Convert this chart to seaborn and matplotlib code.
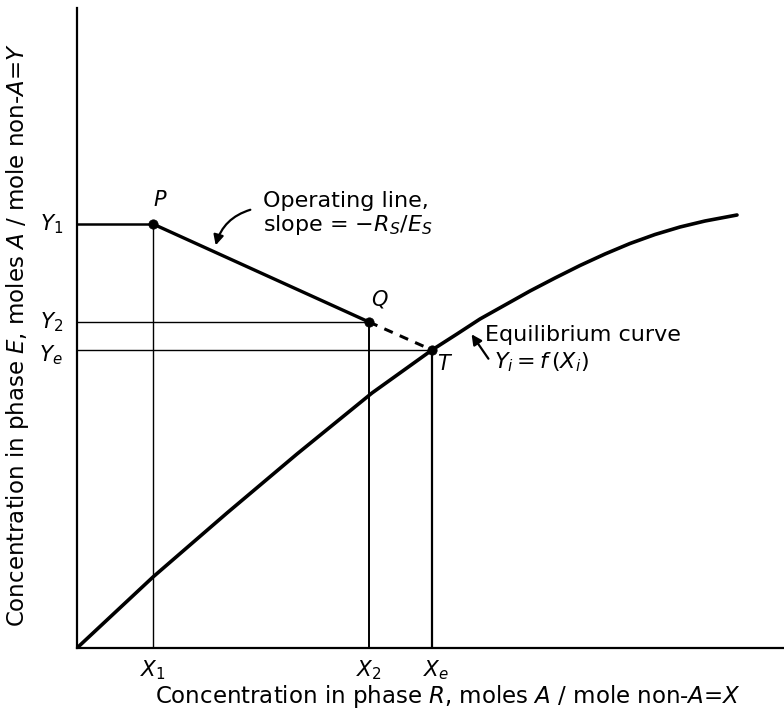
import matplotlib
matplotlib.use("Agg")
import matplotlib.pyplot as plt
import seaborn as sns
import pandas as pd

# Equilibrium curve Y_i = f(X_i), read as (X, Y) pairs
curve_x = [0, 76, 150, 220, 295, 355, 380, 403, 428, 453, 478, 503, 528, 553, 578, 603, 628, 660]
curve_y = [0, 71, 135, 194, 255, 298, 314, 329, 343, 357, 370, 382.5, 394, 404.5, 413.5, 421, 427, 433]

# Operating-point coordinates
X1, X2, Xe = 76, 292, 355
Y1, Y2, Ye = 424, 326, 298

point_names = ["P", "Q", "T"]
point_x = [X1, X2, Xe]
point_y = [Y1, Y2, Ye]

sns.set_theme(style="white")
plt.rcParams["font.family"] = ["DejaVu Sans"]
plt.rcParams["text.color"] = "black"
plt.rcParams["mathtext.fontset"] = "dejavusans"

W, H = 784, 718
fig = plt.figure(figsize=(W / 100, H / 100), dpi=100)
ax = fig.add_axes([77 / W, (H - 648) / H, (W - 77) / W, (648 - 8) / H])
ax.set_xlim(0, 707)
ax.set_ylim(0, 640)
ax.set_facecolor("white")
for s in ["top", "right"]:
    ax.spines[s].set_visible(False)
for s in ["left", "bottom"]:
    ax.spines[s].set_color("black")
    ax.spines[s].set_linewidth(1.6)
ax.set_xticks([])
ax.set_yticks([])

eq = pd.DataFrame({"X": curve_x, "Y": curve_y})
sns.lineplot(data=eq, x="X", y="Y", ax=ax, color="black", linewidth=2.6,
             sort=False, estimator=None)

# Operating line P -> Q (solid) and its extension Q -> T (dashed)
op = pd.DataFrame({"X": point_x[:2], "Y": point_y[:2]})
sns.lineplot(data=op, x="X", y="Y", ax=ax, color="black", linewidth=2.4,
             sort=False, estimator=None)
ax.plot(point_x[1:], point_y[1:], color="black", linewidth=2.2,
        linestyle=(0, (3, 2.5)))

# Construction lines to the axes
ax.plot([0, X1], [Y1, Y1], color="black", linewidth=1.8)
ax.plot([0, X2], [Y2, Y2], color="black", linewidth=1.0)
ax.plot([0, Xe], [Ye, Ye], color="black", linewidth=1.0)
ax.plot([X1, X1], [0, Y1], color="black", linewidth=1.0)
ax.plot([X2, X2], [0, Y2], color="black", linewidth=1.4)
ax.plot([Xe, Xe], [0, Ye], color="black", linewidth=1.6)

sns.scatterplot(x=point_x, y=point_y, ax=ax, color="black", s=45,
                edgecolor="black", zorder=5)

lab = dict(fontsize=15, color="black", style="italic")
ax.text(X1 + 7, Y1 + 14, "P", ha="center", va="bottom", **lab)
ax.text(X2 + 10, Y2 + 12, "Q", ha="center", va="bottom", **lab)
ax.text(Xe + 11, Ye - 4, "T", ha="center", va="top", **lab)

# Axis labels for the marked values
ax.text(-14, Y1, "$Y_1$", ha="right", va="center", fontsize=15.5, clip_on=False)
ax.text(-14, Y2, "$Y_2$", ha="right", va="center", fontsize=15.5, clip_on=False)
ax.text(-14, Ye - 5, "$Y_e$", ha="right", va="center", fontsize=15.5, clip_on=False)
ax.text(X1, -10, "$X_1$", ha="center", va="top", fontsize=15.5, clip_on=False)
ax.text(X2, -10, "$X_2$", ha="center", va="top", fontsize=15.5, clip_on=False)
ax.text(Xe + 4, -10, "$X_e$", ha="center", va="top", fontsize=15.5, clip_on=False)

ax.text(186, 434, "Operating line,\nslope = $-R_S/E_S$", ha="left", va="center",
        fontsize=16, linespacing=1.1)
ax.annotate("", xy=(138, 400), xytext=(176, 439),
            arrowprops=dict(arrowstyle="-|>", color="black", lw=1.6,
                            connectionstyle="arc3,rad=0.3", mutation_scale=15))

ax.text(408, 313, "Equilibrium curve", ha="left", va="center", fontsize=16)
ax.text(417, 286, "$Y_i = f\\,(X_i)$", ha="left", va="center", fontsize=16)
ax.annotate("", xy=(393, 316), xytext=(413, 287),
            arrowprops=dict(arrowstyle="-|>", color="black", lw=1.6,
                            mutation_scale=15))

fig.text(448 / W, 1 - 697 / H,
         "Concentration in phase $R$, moles $A$ / mole non-$A$=$X$",
         ha="center", va="center", fontsize=16.5)
fig.text(18 / W, 1 - 335 / H,
         "Concentration in phase $E$, moles $A$ / mole non-$A$=$Y$",
         ha="center", va="center", rotation=90, fontsize=16.5)

fig.savefig("out.png", dpi=100, facecolor="white")
